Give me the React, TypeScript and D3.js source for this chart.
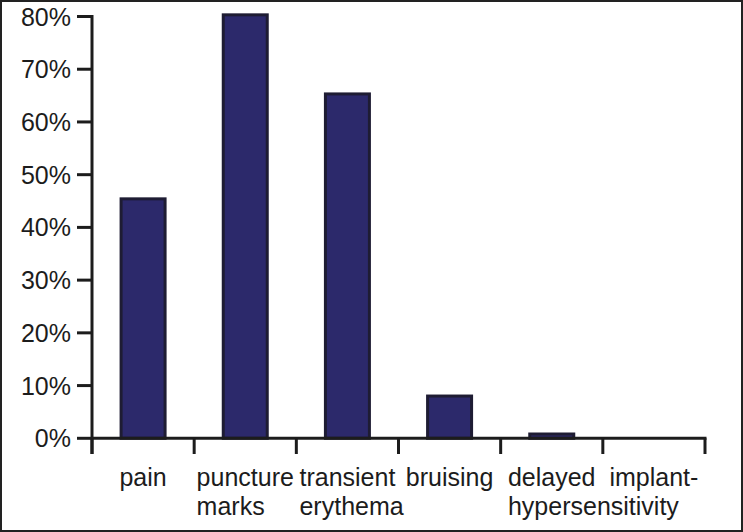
import React, { useEffect, useRef } from "react";
import * as d3 from "d3";

const categories = ["pain", "puncture", "transient", "bruising", "delayed", "implant-"];
const secondLines = ["", "marks", "erythema", "", "hypersensitivity", ""];
const values = [45.7, 80.6, 65.6, 8.3, 1.1, 0];
const yTicks = [0, 10, 20, 30, 40, 50, 60, 70, 80];

const App = () => {
  const svgRef = useRef<SVGSVGElement>(null);

  useEffect(() => {
    document.body.style.margin = "0";
    const width = 743;
    const height = 532;
    const svg = d3.select(svgRef.current);
    svg.selectAll("*").remove();

    const font = "'Liberation Sans', Arial, sans-serif";
    const ink = "#1c1c1c";

    // outer frame
    svg
      .append("rect")
      .attr("x", 1)
      .attr("y", 1)
      .attr("width", width - 2)
      .attr("height", height - 2)
      .attr("fill", "#fff")
      .attr("stroke", "#222")
      .attr("stroke-width", 2);

    const x = d3.scaleBand().domain(categories).range([92, 705]).paddingInner(0).paddingOuter(0);
    const y = d3.scaleLinear().domain([0, 80]).range([438.3, 16.5]);
    const barW = 44;

    // bars
    svg
      .append("g")
      .selectAll("rect")
      .data(categories.map((c, i) => ({ c, v: values[i] })).filter((d) => d.v > 0))
      .join("rect")
      .attr("x", (d) => x(d.c)! + x.bandwidth() / 2 - barW / 2)
      .attr("y", (d) => y(d.v) + 1.5)
      .attr("width", barW)
      .attr("height", (d) => Math.max(0, y(0) - y(d.v) - 1.5))
      .attr("fill", "#2c296b")
      .attr("stroke", "#1e1c33")
      .attr("stroke-width", 3);

    // y axis
    const yAxis = svg.append("g");
    yAxis
      .append("line")
      .attr("x1", 92)
      .attr("x2", 92)
      .attr("y1", y(80) - 1.5)
      .attr("y2", 454)
      .attr("stroke", ink)
      .attr("stroke-width", 3);
    yAxis
      .selectAll("line.tick")
      .data(yTicks)
      .join("line")
      .attr("class", "tick")
      .attr("x1", 77)
      .attr("x2", 92)
      .attr("y1", (d) => y(d))
      .attr("y2", (d) => y(d))
      .attr("stroke", ink)
      .attr("stroke-width", 3);
    yAxis
      .selectAll("text")
      .data(yTicks)
      .join("text")
      .attr("x", 71)
      .attr("y", (d) => y(d))
      .attr("dy", "0.36em")
      .attr("text-anchor", "end")
      .style("font-family", font)
      .style("font-size", "25px")
      .attr("fill", ink)
      .text((d) => `${d}%`);

    // x axis
    const xAxis = svg.append("g");
    xAxis
      .append("line")
      .attr("x1", 92)
      .attr("x2", 706.5)
      .attr("y1", y(0))
      .attr("y2", y(0))
      .attr("stroke", ink)
      .attr("stroke-width", 3);
    const edges = categories.map((c) => x(c)!).concat([x(categories[categories.length - 1])! + x.bandwidth()]);
    xAxis
      .selectAll("line.tick")
      .data(edges)
      .join("line")
      .attr("class", "tick")
      .attr("x1", (d) => d)
      .attr("x2", (d) => d)
      .attr("y1", y(0))
      .attr("y2", 454)
      .attr("stroke", ink)
      .attr("stroke-width", 3);

    categories.forEach((c, i) => {
      const cx = x(c)! + x.bandwidth() / 2;
      const t1 = xAxis
        .append("text")
        .attr("x", cx)
        .attr("y", 486)
        .attr("text-anchor", "middle")
        .style("font-family", font)
        .style("font-size", "25px")
        .attr("fill", ink)
        .text(c);
      if (secondLines[i]) {
        const w = (t1.node() as SVGTextElement).getComputedTextLength();
        xAxis
          .append("text")
          .attr("x", cx - w / 2)
          .attr("y", 515)
          .attr("text-anchor", "start")
          .style("font-family", font)
          .style("font-size", "25px")
          .attr("fill", ink)
          .text(secondLines[i]);
      }
    });
  }, []);

  return <svg ref={svgRef} width={743} height={532} style={{ display: "block" }}></svg>;
};

export default App;
